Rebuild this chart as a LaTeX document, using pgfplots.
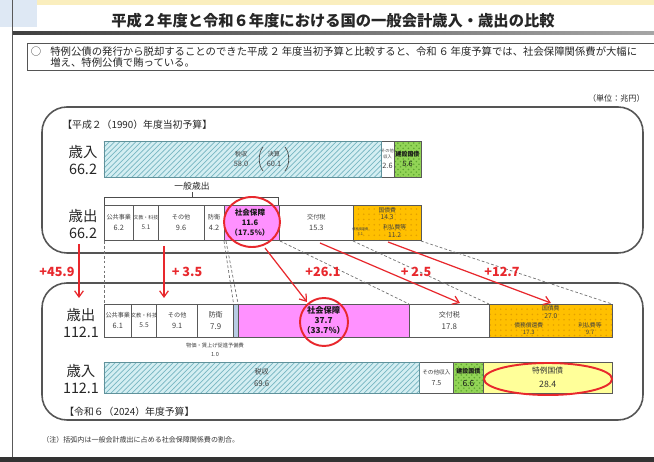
\documentclass[border=0pt]{standalone}
\usepackage{fontspec}
\setmainfont{Noto Sans CJK JP}
\usepackage{pgfplots}
\pgfplotsset{compat=1.18}
\usetikzlibrary{patterns,arrows.meta}

\definecolor{taxfill}{RGB}{212,238,242}
\definecolor{taxhatch}{RGB}{120,182,194}
\definecolor{kensetsu}{RGB}{146,212,86}
\definecolor{kensetsudot}{RGB}{95,165,50}
\definecolor{kokusai}{RGB}{255,192,0}
\definecolor{kokusaidot}{RGB}{228,160,0}
\definecolor{shaho}{RGB}{255,145,255}
\definecolor{tokurei}{RGB}{255,255,153}
\definecolor{yobi}{RGB}{184,204,228}
\definecolor{redline}{RGB}{232,40,45}
\definecolor{frame}{RGB}{85,85,85}
\definecolor{hdrblue}{RGB}{222,232,244}
\definecolor{cream}{RGB}{250,238,190}

\newcommand{\fs}[2]{\fontsize{#1pt}{#2pt}\selectfont}
% cell label: name over value
\newcommand{\cl}[2]{{\fs{3.5}{4.5}#1}\\{\fs{4.2}{5}#2}}

\pgfplotsset{
  onebar/.style={scale only axis, hide axis, clip=false, anchor=south west,
    xbar stacked, xmin=0, ymin=-0.5, ymax=0.5, height=#1, bar width=#1},
  cell/.style={draw=black!65, line width=0.4pt},
}

\begin{document}
\begin{tikzpicture}[x=0.02cm, y=-0.02cm]
\path[use as bounding box] (0,0) rectangle (654,462);
\fill[white] (0,0) rectangle (654,462);

% header
\fill[hdrblue] (0,0) rectangle (37,27);
\fill[cream] (37,0) rectangle (654,5);
\draw[black!65, line width=0.8pt] (12.5,0) -- (12.5,457);
\shade[left color=black!75, right color=black!35] (13,32) rectangle (654,35);
\node[font=\bfseries\fs{8.7}{10}, text=black!85] at (333,21)
  {平成２年度と令和６年度における国の一般会計歳入・歳出の比較};

\draw[frame, line width=0.5pt] (27,43) rectangle (664,70);
\node[font=\fs{5.9}{7}, text=black!80] at (36,52) {○};
\node[anchor=west, font=\fs{5.9}{7}, text=black!85, inner sep=0] at (50,52)
  {特例公債の発行から脱却することのできた平成\,２\,年度当初予算と比較すると、令和\,６\,年度予算では、社会保障関係費が大幅に};
\node[anchor=west, font=\fs{5.9}{7}, text=black!85, inner sep=0] at (50,63)
  {増え、特例公債で賄っている。};
\node[anchor=east, font=\fs{4.6}{6}, text=black!85, inner sep=0] at (645,98) {（単位：兆円）};

% panels
\draw[frame, line width=0.9pt, rounded corners=0.5cm] (42,107) rectangle (643,253);
\draw[frame, line width=0.9pt, rounded corners=0.5cm] (42,283) rectangle (643,420);
\node[anchor=west, font=\fs{5.6}{7}, text=black!85, inner sep=0] at (62,125) {【平成２（1990）年度当初予算】};
\node[anchor=west, font=\fs{5.6}{7}, text=black!85, inner sep=0] at (64,412) {【令和６（2024）年度予算】};

% side labels
\node[align=center, font=\fs{8.2}{9.2}, text=black!85] at (83,160) {歳入\\66.2};
\node[align=center, font=\fs{8.2}{9.2}, text=black!85] at (83,224) {歳出\\66.2};
\node[align=center, font=\fs{8.2}{9.2}, text=black!85] at (81,323) {歳出\\112.1};
\node[align=center, font=\fs{8.2}{9.2}, text=black!85] at (81,379) {歳入\\112.1};

% bracket
\node[font=\fs{5}{6}, text=black!85] at (192,186) {一般歳出};
\draw[black!70, line width=0.5pt] (104,205) -- (104,197) -- (278,197) -- (278,205);
\draw[black!70, line width=0.5pt] (192,197) -- (192,192);

% dashed guides
\begin{scope}[black!55, line width=0.4pt, dash pattern=on 1.6pt off 1.2pt]
\draw (104,241) -- (104,304);
\draw (224,241) -- (233.6,304);
\draw (226,241) -- (238.1,304);
\draw (280,241) -- (409,304);
\draw (353,241) -- (489,304);
\draw (421,241) -- (612,304);
\end{scope}

% ---- 1990 revenue
\coordinate (b1) at (104,177);
\begin{axis}[onebar=0.72cm, at={(b1)}, width=6.34cm, xmax=66.2]
\addplot[cell, draw=taxhatch!80!black, fill=taxfill, postaction={pattern=north east lines, pattern color=taxhatch}] coordinates {(58.0,0)};
\addplot[cell, fill=white] coordinates {(2.6,0)};
\addplot[cell, fill=kensetsu, postaction={pattern=crosshatch dots, pattern color=kensetsudot}] coordinates {(5.6,0)};
\end{axis}

% ---- 1990 expenditure
\coordinate (b2) at (104,240);
\begin{axis}[onebar=0.70cm, at={(b2)}, width=6.35cm, xmax=66.3]
\addplot[cell, fill=white] coordinates {(6.2,0)};
\addplot[cell, fill=white] coordinates {(5.1,0)};
\addplot[cell, fill=white] coordinates {(9.6,0)};
\addplot[cell, fill=white] coordinates {(4.2,0)};
\addplot[cell, fill=shaho] coordinates {(11.6,0)};
\addplot[cell, fill=white] coordinates {(15.3,0)};
\addplot[cell, fill=kokusai, postaction={pattern=dots, pattern color=kokusaidot}] coordinates {(14.3,0)};
\draw[black!65, line width=0.4pt] (axis cs:52.0,0) -- (axis cs:66.3,0);
\draw[black!65, line width=0.4pt] (axis cs:55.1,-0.5) -- (axis cs:55.1,0);
\end{axis}

% ---- 2024 expenditure
\coordinate (b3) at (104,337);
\begin{axis}[onebar=0.66cm, at={(b3)}, width=10.16cm, xmax=112.1]
\addplot[cell, fill=white] coordinates {(6.1,0)};
\addplot[cell, fill=white] coordinates {(5.5,0)};
\addplot[cell, fill=white] coordinates {(9.1,0)};
\addplot[cell, fill=white] coordinates {(7.9,0)};
\addplot[cell, fill=yobi] coordinates {(1.0,0)};
\addplot[cell, fill=shaho] coordinates {(37.7,0)};
\addplot[cell, fill=white] coordinates {(17.8,0)};
\addplot[cell, fill=kokusai, postaction={pattern=dots, pattern color=kokusaidot}] coordinates {(27.0,0)};
\draw[black!65, line width=0.4pt] (axis cs:85.1,0) -- (axis cs:112.1,0);
\draw[black!65, line width=0.4pt] (axis cs:102.4,-0.5) -- (axis cs:102.4,0);
\end{axis}

% ---- 2024 revenue
\coordinate (b4) at (104,393);
\begin{axis}[onebar=0.62cm, at={(b4)}, width=10.16cm, xmax=112.1]
\addplot[cell, draw=taxhatch!80!black, fill=taxfill, postaction={pattern=north east lines, pattern color=taxhatch}] coordinates {(69.6,0)};
\addplot[cell, fill=white] coordinates {(7.5,0)};
\addplot[cell, fill=kensetsu, postaction={pattern=crosshatch dots, pattern color=kensetsudot}] coordinates {(6.6,0)};
\addplot[cell, fill=tokurei] coordinates {(28.4,0)};
\end{axis}

% cell labels
\begin{scope}[every node/.style={align=center, text=black!75, font=\fs{4.2}{6}}]
% 1990 revenue
\node at (241,159) {\cl{税収}{58.0}};
\node at (274,159) {\cl{決算}{60.1}};
\draw[black!70, line width=0.4pt] (263,147) .. controls (258,153) and (258,165) .. (263,171);
\draw[black!70, line width=0.4pt] (285,147) .. controls (290,153) and (290,165) .. (285,171);
\node[font=\fs{2.4}{3.4}] at (387.5,154) {その他\\収入};
\node at (387.5,166) {2.6};
\node[text=black!90] at (407.5,159) {{\bfseries\fs{3.4}{4.5}建設国債}\\{\fs{4.2}{5}5.6}};
% 1990 expenditure
\node at (118.8,222.5) {\cl{公共事業}{6.2}};
\node at (145.9,222.5) {{\fs{2.8}{4}文教・科技}\\{\fs{3.6}{5}5.1}};
\node at (181.1,222.5) {\cl{その他}{9.6}};
\node at (214.1,222.5) {\cl{防衛}{4.2}};
\node[text=black!90, font=\bfseries\fs{4.3}{5.6}] at (250,222.5) {社会保障\\11.6\\（17.5\%）};
\node at (316.4,222.5) {\cl{交付税}{15.3}};
\node[font=\fs{3.8}{4.4}] at (387.2,213.5) {{\fs{3.3}{4}国債費}\\14.3};
\node[font=\fs{2.2}{2.8}] at (360.4,231.3) {{\fs{1.8}{2.5}債務償還費}\\3.1};
\node[font=\fs{3.8}{4.4}] at (394.7,231.3) {{\fs{3.3}{4}利払費等}\\11.2};
% 2024 expenditure
\node at (117.8,320.5) {\cl{公共事業}{6.1}};
\node at (144.1,320.5) {{\fs{3.0}{4.5}文教・科技}\\{\fs{3.8}{5}5.5}};
\node at (177.2,320.5) {\cl{その他}{9.1}};
\node[font=\fs{4.5}{6.5}] at (215.7,320.5) {{\fs{4}{5}防衛}\\7.9};
\node[text=black!90, font=\bfseries\fs{4.7}{5.6}] at (323.6,320.5) {社会保障\\37.7\\（33.7\%）};
\node[font=\fs{4.5}{7}] at (449.3,320.5) {{\fs{4}{5}交付税}\\17.8};
\node[font=\fs{3.8}{4.4}] at (550.8,312.2) {{\fs{3.3}{4}国債費}\\27.0};
\node[font=\fs{3.4}{4.2}] at (528.8,328.7) {{\fs{3.3}{4}債務償還費}\\17.3};
\node[font=\fs{3.4}{4.2}] at (590,328.7) {{\fs{3.3}{4}利払費等}\\9.7};
\node[font=\fs{3.2}{5}] at (215,350) {{\fs{3}{4}物価・賃上げ促進予備費}\\1.0};
% 2024 revenue
\node[font=\fs{4.5}{7}] at (261.7,377.5) {{\fs{4}{5}税収}\\69.6};
\node[font=\fs{4}{6.5}] at (436.4,377.5) {{\fs{3.2}{4.5}その他収入}\\7.5};
\node[text=black!90, font=\fs{4.8}{7}] at (468.4,377.5) {{\bfseries\fs{3.4}{4.5}建設国債}\\6.6};
\node[text=black!80, font=\fs{5}{8}] at (547.7,377.5) {{\fs{4.4}{5.5}特例国債}\\28.4};
\end{scope}

% red annotations
\begin{scope}[redline, line width=0.7pt]
\draw[-{Straight Barb[length=3.5pt,width=5pt]}] (79,244) -- (79,298);
\draw[-{Straight Barb[length=3.5pt,width=5pt]}] (164,246) -- (164,298);
\draw[-{Straight Barb[length=3.5pt,width=5pt]}] (265,248) -- (307,302);
\draw[-{Straight Barb[length=3.5pt,width=5pt]}] (320,243) -- (460,303);
\draw[-{Straight Barb[length=3.5pt,width=5pt]}] (388,242) -- (551,303);
\draw[line width=1.1pt] (252,222) ellipse [x radius=28, y radius=25];
\draw[line width=1.1pt] (324,322) ellipse [x radius=24, y radius=24];
\draw[line width=1.1pt] (548,379) ellipse [x radius=64, y radius=16];
\end{scope}
\begin{scope}[every node/.style={text=redline, font=\bfseries\fs{7.2}{8}}]
\node at (57,272) {+45.9};
\node at (187,272) {+ 3.5};
\node at (323,272) {+26.1};
\node at (416,272) {+ 2.5};
\node at (502,272) {+12.7};
\end{scope}

% note and bottom band
\node[anchor=west, font=\fs{4}{5}, text=black!80, inner sep=0] at (42,440) {（注）括弧内は一般会計歳出に占める社会保障関係費の割合。};
\fill[black!80] (0,457) rectangle (654,462);
\end{tikzpicture}
\end{document}
